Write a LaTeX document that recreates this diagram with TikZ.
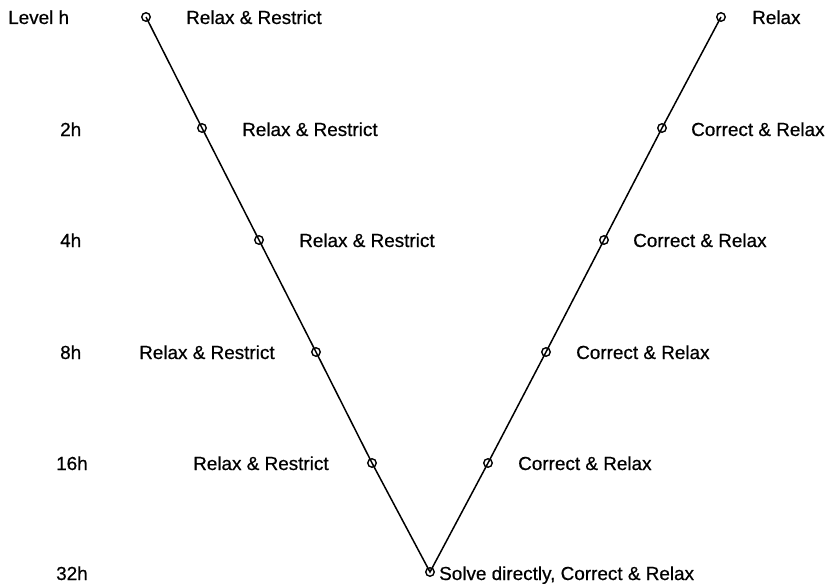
\documentclass[tikz,border=0pt]{standalone}
\usepackage{fontspec}
\setmainfont[FakeBold=0.6,AutoFakeBold=0.6]{Liberation Sans}
\begin{document}
\begin{tikzpicture}[x=1pt,y=-1pt,
  pt/.style={circle,draw,line width=1.4pt,inner sep=0pt,minimum size=8.5pt},
  lab/.style={anchor=base west,inner sep=0pt,font=\fontsize{18.9}{20}\selectfont\bfseries},
  vline/.style={line width=1.5pt}]
\useasboundingbox (0,0) rectangle (827,586);
% level labels
\node[lab] (lh)  at (8,24)  {Level h};
\node[lab] (l2)  at (60,136) {2h};
\node[lab] (l4)  at (60,247) {4h};
\node[lab] (l8)  at (60,359) {8h};
\node[lab] (l16) at (56,470) {16h};
\node[lab] (l32) at (56,580) {32h};
% points
\coordinate (a0) at (146,17);
\coordinate (a1) at (202,128);
\coordinate (a2) at (259,240);
\coordinate (a3) at (316,352);
\coordinate (a4) at (372,463);
\coordinate (b)  at (430,572);
\coordinate (c4) at (488,463);
\coordinate (c3) at (546,352);
\coordinate (c2) at (604,240);
\coordinate (c1) at (662,128);
\coordinate (c0) at (721,17);
\draw[vline] (a0) -- (a1) -- (a2) -- (a3) -- (a4) -- (b) -- (c4) -- (c3) -- (c2) -- (c1) -- (c0);
\foreach \p in {a0,a1,a2,a3,a4,b,c4,c3,c2,c1,c0} \node[pt] (n\p) at (\p) {};
% texts
\node[lab] (ta0) at (186,24)  {Relax \& Restrict};
\node[lab] (ta1) at (242,136) {Relax \& Restrict};
\node[lab] (ta2) at (299,247) {Relax \& Restrict};
\node[lab] (ta3) at (139,359) {Relax \& Restrict};
\node[lab] (ta4) at (193,470) {Relax \& Restrict};
\node[lab] (tb)  at (439,580) {Solve directly, Correct \& Relax};
\node[lab] (tc4) at (518,470) {Correct \& Relax};
\node[lab] (tc3) at (576,359) {Correct \& Relax};
\node[lab] (tc2) at (633,247) {Correct \& Relax};
\node[lab] (tc1) at (691,136) {Correct \& Relax};
\node[lab] (tc0) at (752,24)  {Relax};
\end{tikzpicture}
\end{document}
